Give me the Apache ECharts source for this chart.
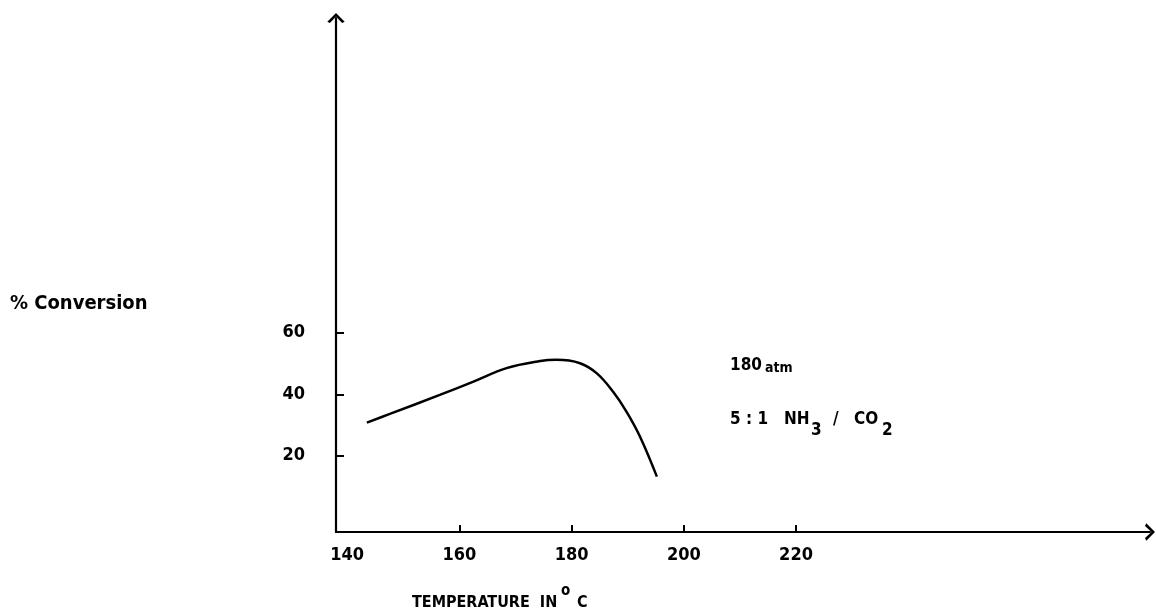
<!DOCTYPE html>
<html>
<head>
<meta charset="utf-8">
<script src="https://cdn.jsdelivr.net/npm/echarts@6/dist/echarts.min.js"></script>
<style>
html,body{margin:0;padding:0;background:#fff;}
#chart{width:1156px;height:614px;}
</style>
</head>
<body>
<div id="chart"></div>
<script>
// Data
const temperature = [143.5, 147.6, 156.5, 162.5, 168.4, 174.4, 177.3, 181.5, 184.5, 187.4, 189.8, 192.2, 195.2];
const conversion  = [30.8, 33.6, 39.8, 44.1, 48.5, 50.8, 51.2, 50.1, 46.8, 40.8, 34.3, 26.2, 13.2];
const xTickLabels = [140, 160, 180, 200, 220];
const xTickMarks = [160, 180, 200, 220];
const yTickLabels = [20, 40, 60];

const FONT = '"DejaVu Sans Condensed", "DejaVu Sans", sans-serif';
const chevron = 'path://M0,10 L10,0 L20,10 L17,11.5 L10,4 L3,11.5 Z';

const chart = echarts.init(document.getElementById('chart'), null, {renderer: 'canvas'});
chart.setOption({
  animation: false,
  backgroundColor: '#fff',
  grid: {left: 336, right: 6, top: 18, bottom: 82, containLabel: false},
  xAxis: {
    type: 'value',
    min: 138,
    max: 283.1,
    splitLine: {show: false},
    axisLine: {show: true, onZero: false, lineStyle: {color: '#000', width: 2.2},
      symbol: ['none', chevron], symbolSize: [18, 10]},
    axisTick: {show: true, inside: true, length: 7, customValues: xTickMarks,
      lineStyle: {color: '#000', width: 2}},
    axisLabel: {show: true, customValues: xTickLabels, margin: 14, color: '#000',
      fontFamily: FONT, fontWeight: 'bold', fontSize: 18}
  },
  yAxis: {
    type: 'value',
    min: -4.8,
    max: 162.4,
    splitLine: {show: false},
    axisLine: {show: true, onZero: false, lineStyle: {color: '#000', width: 2.2},
      symbol: ['none', chevron], symbolSize: [24, 10]},
    axisTick: {show: true, inside: true, length: 8, customValues: yTickLabels,
      lineStyle: {color: '#000', width: 2}},
    axisLabel: {show: true, customValues: yTickLabels, margin: 31, color: '#000',
      fontFamily: FONT, fontWeight: 'bold', fontSize: 18}
  },
  series: [{
    type: 'line',
    data: temperature.map((t, i) => [t, conversion[i]]),
    smooth: 0.4,
    showSymbol: false,
    lineStyle: {color: '#000', width: 2.5},
    z: 3
  }],
  graphic: [
    {type: 'text', x: 10, y: 304, style: {text: '% Conversion', font: 'bold 20px ' + FONT, fill: '#000', verticalAlign: 'middle'}},
    {type: 'text', x: 412, y: 603, style: {text: 'TEMPERATURE  IN', font: 'bold 16px ' + FONT, fill: '#000', verticalAlign: 'middle'}},
    {type: 'text', x: 561, y: 591, style: {text: 'o', font: 'bold 15px ' + FONT, fill: '#000', verticalAlign: 'middle'}},
    {type: 'text', x: 577, y: 603, style: {text: 'C', font: 'bold 16px ' + FONT, fill: '#000', verticalAlign: 'middle'}},
    {type: 'text', x: 730, y: 366, style: {text: '180', font: 'bold 17px ' + FONT, fill: '#000', verticalAlign: 'middle'}},
    {type: 'text', x: 765, y: 368, style: {text: 'atm', font: 'bold 14px ' + FONT, fill: '#000', verticalAlign: 'middle'}},
    {type: 'text', x: 730, y: 420, style: {text: '5 : 1', font: 'bold 17px ' + FONT, fill: '#000', verticalAlign: 'middle'}},
    {type: 'text', x: 784, y: 420, style: {text: 'NH', font: 'bold 17px ' + FONT, fill: '#000', verticalAlign: 'middle'}},
    {type: 'text', x: 811, y: 431, style: {text: '3', font: 'bold 17px ' + FONT, fill: '#000', verticalAlign: 'middle'}},
    {type: 'text', x: 833, y: 420, style: {text: '/', font: 'bold 17px ' + FONT, fill: '#000', verticalAlign: 'middle'}},
    {type: 'text', x: 854, y: 420, style: {text: 'CO', font: 'bold 17px ' + FONT, fill: '#000', verticalAlign: 'middle'}},
    {type: 'text', x: 882, y: 431, style: {text: '2', font: 'bold 17px ' + FONT, fill: '#000', verticalAlign: 'middle'}}
  ]
});
</script>
</body>
</html>
